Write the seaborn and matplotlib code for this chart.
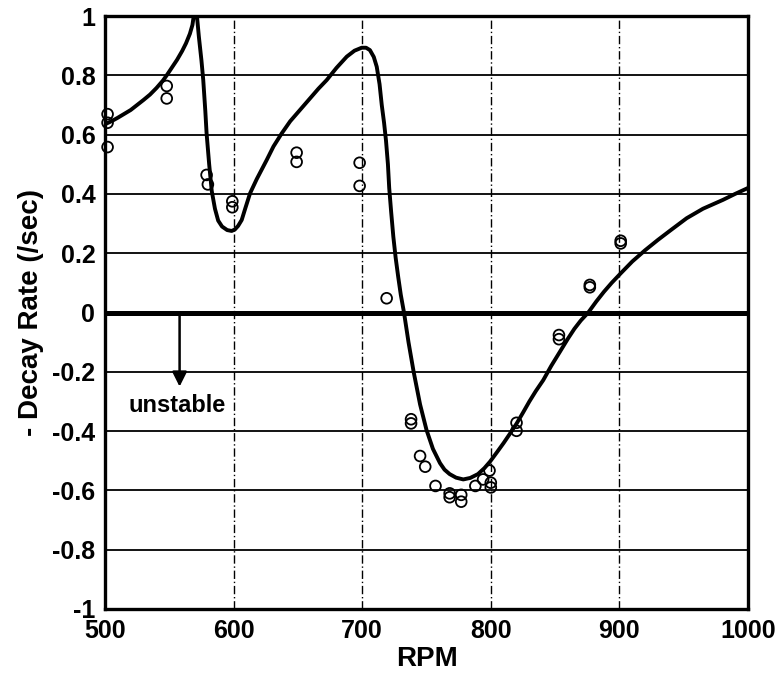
import matplotlib
matplotlib.use("Agg")
import matplotlib.pyplot as plt
import seaborn as sns
import pandas as pd
from matplotlib.ticker import MultipleLocator

# ---- data ----
meas_rpm = [502, 502, 502, 548, 548, 579, 580, 599, 599, 649, 649, 698, 698,
            719, 738, 738, 745, 749, 757, 768, 768, 777, 777, 788, 794, 799,
            800, 800, 820, 820, 853, 853, 877, 877, 901, 901]
meas_rate = [0.669, 0.640, 0.558, 0.764, 0.722, 0.464, 0.432, 0.375, 0.355,
             0.539, 0.508, 0.505, 0.427, 0.048, -0.360, -0.374, -0.484, -0.520,
             -0.585, -0.610, -0.623, -0.615, -0.638, -0.585, -0.563, -0.533,
             -0.574, -0.590, -0.372, -0.399, -0.076, -0.090, 0.093, 0.085,
             0.242, 0.233]

model_rpm = [500, 505, 510, 515, 520, 525, 530, 535, 540, 545, 548, 552, 556,
             560, 563, 566, 568, 569, 570, 571.5, 573, 575, 576.4, 578, 579,
             581, 583, 585.5, 588, 591, 595, 598.5, 601, 603.5, 606.3, 609,
             612.8, 618, 625.7, 631, 637.4, 644, 651.6, 660, 666, 672.4, 680,
             688, 694, 699.6, 703, 706, 709, 711.3, 713.5, 715.2, 717, 718.5,
             720, 721, 722.5, 724.2, 726, 728, 730, 732.5, 736, 740, 745, 750,
             755, 760.5, 764, 768, 773, 778.6, 784, 790, 795, 799.4, 805, 810,
             815, 820, 825, 830, 835, 840.8, 847, 853.8, 860, 865, 870, 875.8,
             882, 888, 894, 901, 910, 920, 930, 940, 952.3, 965, 980.6, 990,
             1000]
model_rate = [0.635, 0.645, 0.657, 0.670, 0.683, 0.700, 0.717, 0.735, 0.757,
              0.782, 0.800, 0.826, 0.852, 0.882, 0.908, 0.940, 0.970, 1.000,
              1.040, 1.000, 0.930, 0.850, 0.784, 0.680, 0.604, 0.500, 0.410,
              0.350, 0.310, 0.290, 0.278, 0.275, 0.280, 0.292, 0.312, 0.350,
              0.402, 0.450, 0.514, 0.560, 0.604, 0.645, 0.683, 0.725, 0.755,
              0.784, 0.825, 0.863, 0.883, 0.893, 0.893, 0.885, 0.862, 0.829,
              0.770, 0.700, 0.640, 0.580, 0.500, 0.420, 0.340, 0.256, 0.185,
              0.120, 0.060, 0.000, -0.100, -0.200, -0.310, -0.396, -0.460,
              -0.508, -0.530, -0.545, -0.557, -0.563, -0.558, -0.545, -0.525,
              -0.503, -0.470, -0.440, -0.408, -0.375, -0.338, -0.300, -0.265,
              -0.228, -0.180, -0.132, -0.088, -0.055, -0.027, 0.000, 0.037,
              0.070, 0.100, 0.132, 0.172, 0.210, 0.245, 0.278, 0.318, 0.350,
              0.380, 0.400, 0.420]

x_ticks = [500, 600, 700, 800, 900, 1000]
y_ticks = [-1, -0.8, -0.6, -0.4, -0.2, 0, 0.2, 0.4, 0.6, 0.8, 1]
y_tick_labels = ["-1", "-0.8", "-0.6", "-0.4", "-0.2", "0", "0.2", "0.4", "0.6", "0.8", "1"]

sns.set_style("white")
plt.rcParams["font.family"] = ["Liberation Sans", "DejaVu Sans"]
plt.rcParams["axes.unicode_minus"] = False
for key in ("text.color", "axes.labelcolor", "xtick.color", "ytick.color", "axes.edgecolor"):
    plt.rcParams[key] = "black"

fig = plt.figure(figsize=(7.81, 6.81), dpi=100)
ax = fig.add_axes([105 / 781, 1 - 609 / 681, (748 - 105) / 781, (609 - 16) / 681])

# grid
for yv in y_ticks:
    if yv not in (-1, 0, 1):
        ax.axhline(yv, color="black", lw=1.3, zorder=1)
for xv in x_ticks[1:-1]:
    ax.axvline(xv, color="black", lw=1.0, ls=(0, (6, 2, 1, 2)), zorder=1)
ax.axhline(0, color="black", lw=3.6, zorder=2)

df_model = pd.DataFrame({"rpm": model_rpm, "rate": model_rate})
sns.lineplot(data=df_model, x="rpm", y="rate", sort=False, estimator=None,
             color="black", lw=2.8, ax=ax, zorder=3)

df_meas = pd.DataFrame({"rpm": meas_rpm, "rate": meas_rate})
sns.scatterplot(data=df_meas, x="rpm", y="rate", marker="o", s=60,
                facecolor="none", edgecolor="black", linewidth=1.3,
                ax=ax, zorder=4, clip_on=False)

ax.set_xlim(500, 1000)
ax.set_ylim(-1, 1)
ax.set_xticks(x_ticks)
ax.set_xticklabels([str(v) for v in x_ticks])
ax.set_yticks(y_ticks)
ax.set_yticklabels(y_tick_labels)
ax.xaxis.set_minor_locator(MultipleLocator(20))
ax.yaxis.set_minor_locator(MultipleLocator(0.04))

ax.tick_params(axis="both", which="major", direction="in", color="black",
               labelsize=18, width=2.0, length=9, pad=7)
ax.tick_params(axis="both", which="minor", direction="in", color="black",
               width=1.5, length=6)
for lab in ax.get_xticklabels() + ax.get_yticklabels():
    lab.set_fontweight("bold")

for sp in ax.spines.values():
    sp.set_linewidth(2.4)
    sp.set_color("black")

ax.set_xlabel("RPM", fontsize=20, fontweight="bold", labelpad=2)
ax.set_ylabel("- Decay Rate (/sec)", fontsize=20, fontweight="bold", labelpad=6)

# unstable annotation
ax.annotate("", xy=(558, -0.25), xytext=(558, 0.0),
            arrowprops=dict(arrowstyle="-|>", color="black", lw=1.8,
                            mutation_scale=22, shrinkA=0, shrinkB=0))
ax.text(518, -0.315, "unstable", fontsize=17, fontweight="bold",
        ha="left", va="center")

fig.savefig("out.png", dpi=100)
